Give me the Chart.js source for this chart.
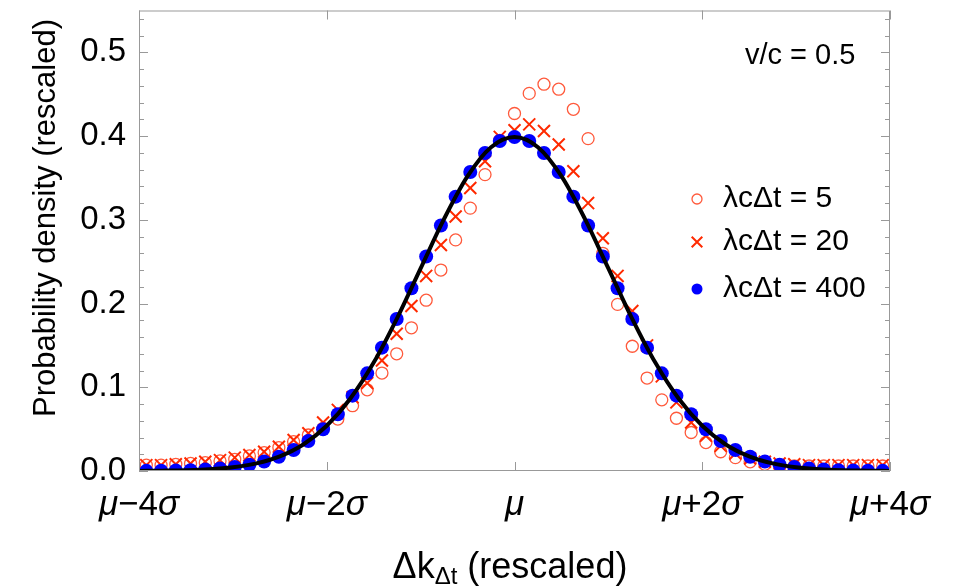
<!DOCTYPE html>
<html>
<head>
<meta charset="utf-8">
<script src="https://cdn.jsdelivr.net/npm/chart.js@4/dist/chart.umd.min.js"></script>
<style>
  html, body { margin: 0; padding: 0; background: #fff; }
  #chart { display: block; }
</style>
</head>
<body>
<canvas id="chart" width="960" height="586"></canvas>
<script>
// bin centres in units of sigma, relative to mu
const binCenters = [
  -3.922, -3.765, -3.608, -3.451, -3.294, -3.137, -2.980, -2.824, -2.667, -2.510,
  -2.353, -2.196, -2.039, -1.882, -1.725, -1.569, -1.412, -1.255, -1.098, -0.941,
  -0.784, -0.627, -0.471, -0.314, -0.157, 0, 0.157, 0.314, 0.471, 0.627,
  0.784, 0.941, 1.098, 1.255, 1.412, 1.569, 1.725, 1.882, 2.039, 2.196,
  2.353, 2.510, 2.667, 2.824, 2.980, 3.137, 3.294, 3.451, 3.608, 3.765, 3.922
];

// lambda c dt = 5  (open circles)
const density5 = [
  0.007, 0.007, 0.008, 0.009, 0.010, 0.012, 0.014, 0.018, 0.022, 0.028,
  0.035, 0.043, 0.051, 0.062, 0.078, 0.097, 0.117, 0.140, 0.171, 0.204,
  0.240, 0.276, 0.314, 0.354, 0.395, 0.427, 0.451, 0.462, 0.456, 0.432,
  0.397, 0.260, 0.199, 0.149, 0.111, 0.085, 0.063, 0.046, 0.034, 0.023,
  0.016, 0.011, 0.008, 0.007, 0.006, 0.006, 0.006, 0.006, 0.006, 0.006, 0.006
];

// lambda c dt = 20  (crosses)
const density20 = [
  0.007, 0.007, 0.008, 0.009, 0.011, 0.013, 0.016, 0.019, 0.023, 0.029,
  0.037, 0.045, 0.058, 0.073, 0.088, 0.105, 0.132, 0.164, 0.197, 0.233,
  0.270, 0.304, 0.338, 0.370, 0.399, 0.407, 0.414, 0.406, 0.390, 0.358,
  0.320, 0.278, 0.233, 0.191, 0.150, 0.113, 0.082, 0.058, 0.042, 0.030,
  0.021, 0.015, 0.011, 0.009, 0.008, 0.007, 0.007, 0.007, 0.007, 0.007, 0.007
];

// lambda c dt = 400  (filled dots)
const density400 = [
  0.0002, 0.0003, 0.0006, 0.0010, 0.0018, 0.0029, 0.0047, 0.0074, 0.0114, 0.0171,
  0.0250, 0.0358, 0.0499, 0.0678, 0.0900, 0.1166, 0.1473, 0.1815, 0.2183, 0.2562,
  0.2933, 0.3277, 0.3571, 0.3798, 0.3941, 0.3989, 0.3941, 0.3798, 0.3571, 0.3277,
  0.2933, 0.2562, 0.2183, 0.1815, 0.1473, 0.1166, 0.0900, 0.0678, 0.0499, 0.0358,
  0.0250, 0.0171, 0.0114, 0.0074, 0.0047, 0.0029, 0.0018, 0.0010, 0.0006, 0.0003, 0.0002
];

// black reference curve
const fitX = [
  -4, -3.75, -3.5, -3.25, -3, -2.75, -2.5, -2.25, -2, -1.75, -1.5, -1.25, -1, -0.75, -0.5, -0.25,
  0, 0.25, 0.5, 0.75, 1, 1.25, 1.5, 1.75, 2, 2.25, 2.5, 2.75, 3, 3.25, 3.5, 3.75, 4
];
const fitY = [
  0.0001, 0.0004, 0.0009, 0.0020, 0.0044, 0.0091, 0.0175, 0.0317, 0.0540, 0.0863, 0.1295, 0.1827, 0.2420, 0.3011, 0.3521, 0.3867,
  0.3989, 0.3867, 0.3521, 0.3011, 0.2420, 0.1827, 0.1295, 0.0863, 0.0540, 0.0317, 0.0175, 0.0091, 0.0044, 0.0020, 0.0009, 0.0004, 0.0001
];

const seriesLabels = ['λcΔt = 5', 'λcΔt = 20', 'λcΔt = 400'];
const xTickValues = [-4, -2, 0, 2, 4];
const xTickLabels = ['μ−4σ', 'μ−2σ', 'μ', 'μ+2σ', 'μ+4σ'];
const yTickValues = [0, 0.1, 0.2, 0.3, 0.4, 0.5];

const FONT = "'Liberation Sans', Arial, sans-serif";
const xy = arr => arr.map((v, i) => ({ x: binCenters[i], y: v }));

function drawMarker(ctx, style, x, y, r) {
  ctx.beginPath();
  if (style === 'crossRot') {
    const d = r * Math.SQRT1_2;
    ctx.moveTo(x - d, y - d); ctx.lineTo(x + d, y + d);
    ctx.moveTo(x + d, y - d); ctx.lineTo(x - d, y + d);
    ctx.stroke();
  } else {
    ctx.arc(x, y, r, 0, Math.PI * 2);
  }
}

const framePlugin = {
  id: 'frame',
  afterDraw(chart) {
    const { ctx, chartArea: a, scales: { x, y } } = chart;
    ctx.save();

    // frame + inward ticks
    ctx.strokeStyle = '#999';
    ctx.lineWidth = 1;
    ctx.strokeRect(a.left + 0.5, a.top + 0.5, a.right - a.left - 1, a.bottom - a.top - 1);
    ctx.beginPath();
    xTickValues.forEach(v => {
      const px = Math.round(x.getPixelForValue(v)) + 0.5;
      ctx.moveTo(px, a.bottom); ctx.lineTo(px, a.bottom - 9);
      ctx.moveTo(px, a.top); ctx.lineTo(px, a.top + 9);
    });
    for (let i = 0; i <= 27; i++) {
      const len = i % 5 === 0 ? 9 : 5;
      const py = Math.round(y.getPixelForValue(i * 0.02)) + 0.5;
      ctx.moveTo(a.left, py); ctx.lineTo(a.left + len, py);
      ctx.moveTo(a.right, py); ctx.lineTo(a.right - len, py);
    }
    ctx.stroke();

    // x tick labels, mu and sigma in italic
    ctx.fillStyle = '#000';
    ctx.textBaseline = 'alphabetic';
    ctx.textAlign = 'left';
    xTickValues.forEach((v, i) => {
      const parts = xTickLabels[i].split(/([μσ])/).filter(s => s);
      const fonts = parts.map(p => (/[μσ]/.test(p) ? 'italic ' : '') + '35px ' + FONT);
      let w = 0;
      parts.forEach((p, j) => { ctx.font = fonts[j]; w += ctx.measureText(p).width; });
      let cx = x.getPixelForValue(v) - w / 2;
      parts.forEach((p, j) => {
        ctx.font = fonts[j];
        ctx.fillText(p, cx, 515);
        cx += ctx.measureText(p).width;
      });
    });

    // axis titles
    ctx.save();
    ctx.translate(46, 218);
    ctx.rotate(-Math.PI / 2);
    ctx.textAlign = 'center';
    ctx.textBaseline = 'middle';
    ctx.font = '31px ' + FONT;
    ctx.fillText('Probability density (rescaled)', 0, 0);
    ctx.restore();

    const tParts = [['Δk', 36, 0], ['Δt', 24, 6], [' (rescaled)', 36, 0]];
    let tw = 0;
    tParts.forEach(p => { ctx.font = p[1] + 'px ' + FONT; tw += ctx.measureText(p[0]).width; });
    let tx = 510 - tw / 2;
    tParts.forEach(p => {
      ctx.font = p[1] + 'px ' + FONT;
      ctx.fillText(p[0], tx, 578 + p[2]);
      tx += ctx.measureText(p[0]).width;
    });

    // annotation
    ctx.font = '29px ' + FONT;
    ctx.textBaseline = 'middle';
    ctx.fillText('v/c = 0.5', 745, 56);

    // legend
    const rows = [199, 242, 289];
    const legendSets = [3, 2, 1];
    const legendR = [5, 7.5, 5.5];
    legendSets.forEach((di, i) => {
      const ds = chart.data.datasets[di];
      ctx.strokeStyle = ds.borderColor;
      ctx.fillStyle = ds.backgroundColor;
      ctx.lineWidth = ds.borderWidth;
      drawMarker(ctx, ds.pointStyle, 697, rows[i], legendR[i]);
      if (ds.pointStyle === 'circle') {
        if (ds.borderWidth) ctx.stroke();
        ctx.fill();
      }
      ctx.fillStyle = '#000';
      ctx.font = '30px ' + FONT;
      ctx.fillText(ds.label, 723, rows[i]);
    });
    ctx.restore();
  }
};

new Chart(document.getElementById('chart'), {
  type: 'scatter',
  data: {
    datasets: [
      {
        label: 'fit',
        data: fitX.map((v, i) => ({ x: v, y: fitY[i] })),
        showLine: true,
        borderColor: '#000',
        borderWidth: 4,
        pointRadius: 0,
        cubicInterpolationMode: 'monotone',
        order: 0
      },
      {
        label: seriesLabels[2],
        data: xy(density400),
        pointStyle: 'circle',
        pointRadius: 7,
        backgroundColor: '#0000ff',
        borderColor: '#0000ff',
        borderWidth: 0,
        order: 1
      },
      {
        label: seriesLabels[1],
        data: xy(density20),
        pointStyle: 'crossRot',
        pointRadius: 8.5,
        backgroundColor: 'rgba(0,0,0,0)',
        borderColor: '#ff2a00',
        borderWidth: 2,
        order: 2
      },
      {
        label: seriesLabels[0],
        data: xy(density5),
        pointStyle: 'circle',
        pointRadius: 6,
        backgroundColor: 'rgba(0,0,0,0)',
        borderColor: '#ff5a3c',
        borderWidth: 1.3,
        order: 3
      }
    ]
  },
  options: {
    responsive: false,
    animation: false,
    devicePixelRatio: 1,
    layout: { padding: { top: 7, right: 70, left: 0, bottom: 0 } },
    plugins: { legend: { display: false }, tooltip: { enabled: false } },
    scales: {
      x: {
        type: 'linear',
        min: -4,
        max: 4,
        grid: { display: false },
        border: { display: false },
        ticks: { display: false },
        afterFit: s => { s.height = 115; s.paddingLeft = 0; s.paddingRight = 0; }
      },
      y: {
        type: 'linear',
        min: 0,
        max: 0.55,
        grid: { display: false },
        border: { display: false },
        afterBuildTicks: s => { s.ticks = yTickValues.map(v => ({ value: v })); },
        ticks: {
          callback: v => v.toFixed(1),
          color: '#000',
          padding: 5,
          font: { family: FONT, size: 33 }
        },
        afterFit: s => { s.width = 139; s.paddingTop = 0; s.paddingBottom = 0; }
      }
    }
  },
  plugins: [framePlugin]
});
</script>
</body>
</html>
